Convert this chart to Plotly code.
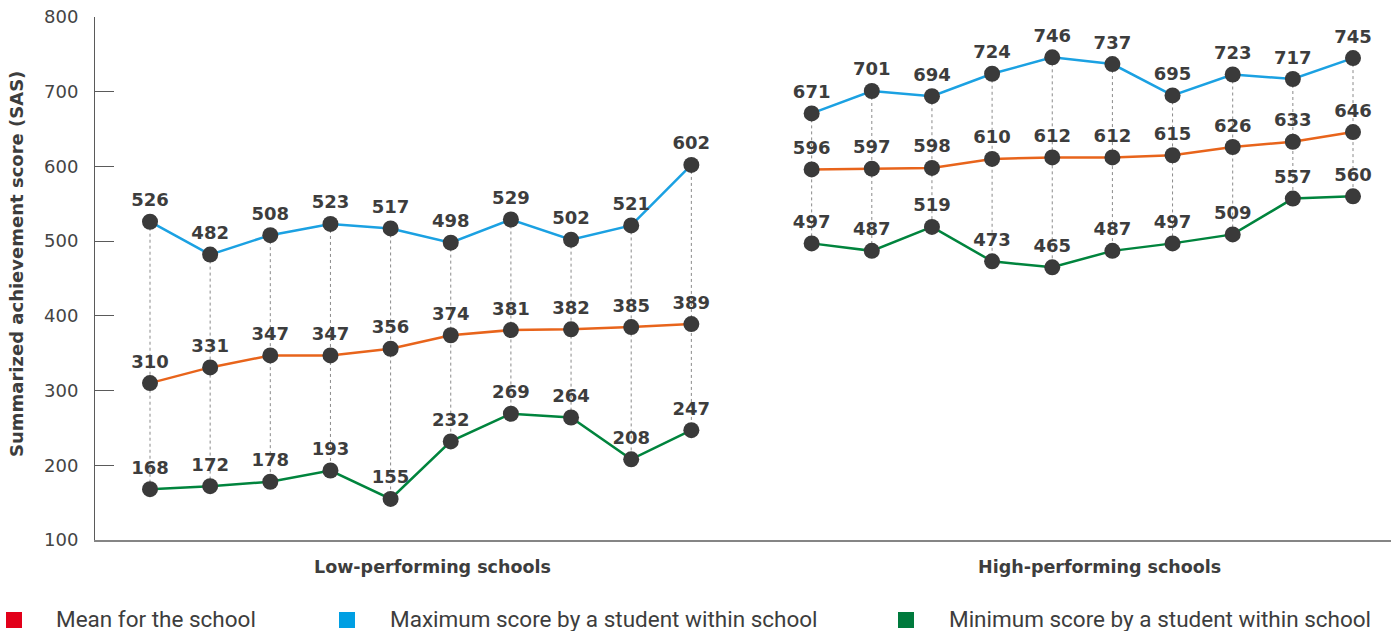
import plotly.graph_objects as go

# Values
low_max = [526, 482, 508, 523, 517, 498, 529, 502, 521, 602]
low_mean = [310, 331, 347, 347, 356, 374, 381, 382, 385, 389]
low_min = [168, 172, 178, 193, 155, 232, 269, 264, 208, 247]

high_max = [671, 701, 694, 724, 746, 737, 695, 723, 717, 745]
high_mean = [596, 597, 598, 610, 612, 612, 615, 626, 633, 646]
high_min = [497, 487, 519, 473, 465, 487, 497, 509, 557, 560]

group_labels = ["Low-performing schools", "High-performing schools"]
legend_labels = [
    "Mean for the school",
    "Maximum score by a student within school",
    "Minimum score by a student within school",
]
y_ticks = [100, 200, 300, 400, 500, 600, 700, 800]

W, H = 1391, 631
L, R, T, B = 95, 0, 17, 91
PW, PH = W - L - R, H - T - B


def px_x(px):
    # page pixel -> paper coordinate
    return (px - L) / PW


def px_y(py):
    return (H - B - py) / PH


# x positions: low group 0..9, gap, high group 11..20
low_x = list(range(10))
high_x = list(range(11, 21))
xs = low_x + [None] + high_x

max_all = low_max + [None] + high_max
mean_all = low_mean + [None] + high_mean
min_all = low_min + [None] + high_min

DOT = "#3a3a3a"
BLUE_LINE = "#1ba1e2"
ORANGE_LINE = "#e8641b"
GREEN_LINE = "#00843d"

fig = go.Figure()

# vertical dotted connectors from max to min
vx, vy = [], []
for x, hi, lo in zip(low_x + high_x, low_max + high_max, low_min + high_min):
    vx += [x, x, None]
    vy += [hi, lo, None]
fig.add_trace(go.Scatter(
    x=vx, y=vy, mode="lines",
    line=dict(color="#8a8a8a", width=1, dash="dot"),
    hoverinfo="skip", showlegend=False,
))

label_font = dict(family="DejaVu Sans", size=18, color="#3d3d3d")
for vals, col in [(max_all, BLUE_LINE), (mean_all, ORANGE_LINE), (min_all, GREEN_LINE)]:
    fig.add_trace(go.Scatter(
        x=xs, y=vals, mode="lines+markers+text",
        line=dict(color=col, width=2.5),
        marker=dict(color=DOT, size=16),
        text=[f"<b>{v}</b>" if v is not None else "" for v in vals],
        textposition="top center",
        textfont=label_font,
        connectgaps=False,
        showlegend=False,
    ))

fig.update_xaxes(
    range=[(L - 150) / 60.15, (W - 150) / 60.15],
    showgrid=False, zeroline=False, showticklabels=False, ticks="",
    showline=True, linecolor="#858585", linewidth=2,
)
fig.update_yaxes(
    range=[100, 800], tickvals=y_ticks,
    showgrid=False, zeroline=False,
    ticks="inside", ticklen=19, tickcolor="#5a5a5a", tickwidth=1,
    showline=True, linecolor="#5a5a5a", linewidth=1,
    tickfont=dict(family="DejaVu Sans", size=18, color="#444444"),
    ticklabelstandoff=12,
)

annotations = []
for label, cx in zip(group_labels, [432, 1099]):
    annotations.append(dict(
        x=px_x(cx), y=px_y(567), xref="paper", yref="paper",
        text=f"<b>{label}</b>", showarrow=False,
        font=dict(family="DejaVu Sans", size=17.5, color="#3d3d3d"),
        xanchor="center", yanchor="middle",
    ))

annotations.append(dict(
    x=px_x(16), y=px_y(264), xref="paper", yref="paper",
    text="<b>Summarized achievement score (SAS)</b>", showarrow=False,
    textangle=-90,
    font=dict(family="DejaVu Sans", size=18, color="#3d3d3d"),
    xanchor="center", yanchor="middle",
))

legend_colors = ["#e2001a", "#009fe3", "#007a3d"]
sq_x = [6, 339, 898]
txt_x = [54, 388, 947]
shapes = []
for label, c, sx, tx in zip(legend_labels, legend_colors, sq_x, txt_x):
    shapes.append(dict(
        type="rect", xref="paper", yref="paper",
        x0=px_x(sx), x1=px_x(sx + 16), y0=px_y(628), y1=px_y(612),
        fillcolor=c, line=dict(width=0),
    ))
    annotations.append(dict(
        x=px_x(tx), y=px_y(619), xref="paper", yref="paper",
        text=label, showarrow=False,
        font=dict(family="Roboto", size=22.5, color="#3d3d3d"),
        xanchor="left", yanchor="middle",
    ))

fig.update_layout(
    width=W, height=H,
    margin=dict(l=L, r=R, t=T, b=B),
    plot_bgcolor="white", paper_bgcolor="white",
    annotations=annotations, shapes=shapes,
    showlegend=False,
)

# drop the browser's default 8px body margin so the figure fills the window
fig.write_html(
    "out.html",
    config={"displayModeBar": False},
    post_script="document.body.style.margin='0';",
)
